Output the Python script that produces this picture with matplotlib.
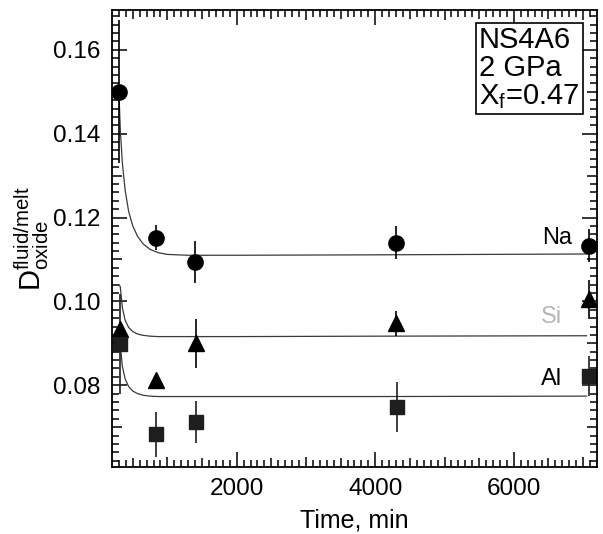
import matplotlib
matplotlib.use('Agg')
import matplotlib.pyplot as plt
import numpy as np

plt.rcParams['font.family'] = ['Liberation Sans', 'DejaVu Sans']
plt.rcParams['mathtext.fontset'] = 'custom'
plt.rcParams['mathtext.rm'] = 'Liberation Sans'
plt.rcParams['mathtext.it'] = 'Liberation Sans'

# measured points (time in min, D fluid/melt)
na_t = [300, 830, 1400, 4300, 7090]
na_d = [0.150, 0.1152, 0.1095, 0.1140, 0.1133]
na_err = [0.017, 0.003, 0.005, 0.004, 0.004]

si_t = [310, 830, 1410, 4300, 7090]
si_d = [0.0933, 0.0812, 0.0900, 0.0948, 0.1005]
si_err = [0.0, 0.0, 0.0058, 0.003, 0.0046]

al_t = [310, 840, 1410, 4310, 7090]
al_d = [0.0898, 0.0683, 0.0712, 0.0748, 0.0822]
al_err = [0.012, 0.0053, 0.005, 0.006, 0.0048]

# fitted curves
fit_t = [300, 320, 350, 390, 440, 500, 570, 650, 750, 870, 1000, 1300, 2000, 4000, 7050]
na_fit = [0.150, 0.141, 0.133, 0.1265, 0.1215, 0.1180, 0.1155, 0.1137, 0.1124, 0.1116,
          0.1112, 0.1110, 0.1110, 0.1111, 0.1113]
si_fit = [0.1040, 0.1035, 0.0985, 0.0955, 0.0938, 0.0928, 0.0922, 0.0919, 0.0917, 0.0916,
          0.0916, 0.0916, 0.0916, 0.0917, 0.0918]
al_fit = [0.0905, 0.0895, 0.0845, 0.0815, 0.0797, 0.0786, 0.0780, 0.0776, 0.0774, 0.0773,
          0.0773, 0.0773, 0.0773, 0.0773, 0.0774]

fig = plt.figure(figsize=(6.03, 5.34), dpi=100)
ax = fig.add_axes([0.1857, 0.1255, 0.8043, 0.8558])

line_col = '#3a3a3a'
ax.plot(fit_t, na_fit, color=line_col, lw=0.9)
ax.plot(fit_t, si_fit, color=line_col, lw=0.9)
ax.plot(fit_t, al_fit, color=line_col, lw=0.9)

ax.errorbar(na_t, na_d, yerr=na_err, fmt='o', color='black', ms=11, elinewidth=1.2, capsize=0)
ax.errorbar(si_t, si_d, yerr=si_err, fmt='^', color='black', ms=11, elinewidth=1.2, capsize=0)
ax.errorbar(al_t, al_d, yerr=al_err, fmt='s', color='#1e1e1e', ms=10, elinewidth=1.2, capsize=0)

ax.text(6620, 0.1150, 'Na', fontsize=17, ha='center', va='center')
ax.text(6540, 0.0962, 'Si', fontsize=17, ha='center', va='center', color='#b5b5b5')
ax.text(6540, 0.0814, 'Al', fontsize=17, ha='center', va='center')

ax.text(0.757, 0.965, 'NS4A6\n2 GPa\n$\\mathregular{X_f}$=0.47', transform=ax.transAxes,
        fontsize=21, ha='left', va='top', linespacing=1.0,
        bbox=dict(boxstyle='square,pad=0.12', fc='white', ec='black', lw=1.2))

ax.set_xlim(200, 7200)
ax.set_ylim(0.0605, 0.1695)

ax.set_xticks([2000, 4000, 6000])
ax.set_xticks(np.arange(300, 7200, 100), minor=True)
ax.set_yticks([0.08, 0.10, 0.12, 0.14, 0.16])
ax.set_yticklabels(['0.08', '0.10', '0.12', '0.14', '0.16'])
ax.set_yticks(np.arange(0.062, 0.1695, 0.002), minor=True)

ax.tick_params(which='both', direction='in', top=True, right=True, width=1.1, labelsize=17.5)
ax.tick_params(which='major', length=11, pad=8)
ax.tick_params(which='minor', length=5)

# longer minor ticks at 500 / 1000 and 0.01
for tick, loc in zip(ax.xaxis.get_minor_ticks(), ax.xaxis.get_minorticklocs()):
    if round(loc) % 1000 == 0:
        tick.tick1line.set_markersize(7.5)
        tick.tick2line.set_markersize(7.5)
    elif round(loc) % 500 == 0:
        tick.tick1line.set_markersize(6.5)
        tick.tick2line.set_markersize(6.5)
for tick, loc in zip(ax.yaxis.get_minor_ticks(), ax.yaxis.get_minorticklocs()):
    if round(loc * 1000) % 10 == 0:
        tick.tick1line.set_markersize(7.5)
        tick.tick2line.set_markersize(7.5)

for s in ax.spines.values():
    s.set_linewidth(1.3)

ax.set_xlabel('Time, min', fontsize=18, labelpad=6)
ax.set_ylabel('$\\mathregular{D^{fluid/melt}_{oxide}}$', fontsize=21, labelpad=2)

fig.savefig('out.png', dpi=100)
